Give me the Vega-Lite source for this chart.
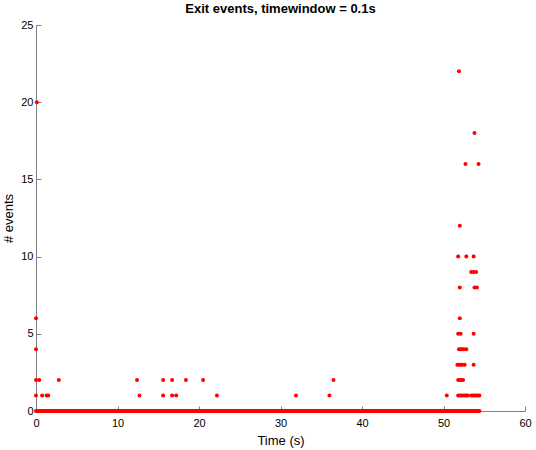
{
  "$schema": "https://vega.github.io/schema/vega-lite/v6.json",
  "autosize": {"type": "none"},
  "width": 489,
  "height": 386,
  "padding": {"left": 36, "top": 25, "right": 11, "bottom": 39},
  "background": "white",
  "config": {
    "view": {"stroke": null},
    "font": "Liberation Sans",
    "axis": {"grid": false, "domainColor": "#808080", "tickColor": "#808080", "labelColor": "black", "titleColor": "black", "labelFontSize": 11, "titleFontSize": 13, "titleFontWeight": "normal", "tickSize": -5}
  },
  "title": {"text": "Exit events, timewindow = 0.1s", "fontSize": 13, "fontWeight": "bold", "font": "Liberation Sans", "offset": 3, "color": "black"},
  "data": {"values": [
    {"t":0.0,"n":0},{"t":0.1,"n":0},{"t":0.2,"n":0},{"t":0.3,"n":0},{"t":0.4,"n":0},{"t":0.5,"n":0},{"t":0.6,"n":0},{"t":0.7,"n":0},{"t":0.8,"n":0},{"t":0.9,"n":0},
    {"t":1.0,"n":0},{"t":1.1,"n":0},{"t":1.2,"n":0},{"t":1.3,"n":0},{"t":1.4,"n":0},{"t":1.5,"n":0},{"t":1.6,"n":0},{"t":1.7,"n":0},{"t":1.8,"n":0},{"t":1.9,"n":0},
    {"t":2.0,"n":0},{"t":2.1,"n":0},{"t":2.2,"n":0},{"t":2.3,"n":0},{"t":2.4,"n":0},{"t":2.5,"n":0},{"t":2.6,"n":0},{"t":2.7,"n":0},{"t":2.8,"n":0},{"t":2.9,"n":0},
    {"t":3.0,"n":0},{"t":3.1,"n":0},{"t":3.2,"n":0},{"t":3.3,"n":0},{"t":3.4,"n":0},{"t":3.5,"n":0},{"t":3.6,"n":0},{"t":3.7,"n":0},{"t":3.8,"n":0},{"t":3.9,"n":0},
    {"t":4.0,"n":0},{"t":4.1,"n":0},{"t":4.2,"n":0},{"t":4.3,"n":0},{"t":4.4,"n":0},{"t":4.5,"n":0},{"t":4.6,"n":0},{"t":4.7,"n":0},{"t":4.8,"n":0},{"t":4.9,"n":0},
    {"t":5.0,"n":0},{"t":5.1,"n":0},{"t":5.2,"n":0},{"t":5.3,"n":0},{"t":5.4,"n":0},{"t":5.5,"n":0},{"t":5.6,"n":0},{"t":5.7,"n":0},{"t":5.8,"n":0},{"t":5.9,"n":0},
    {"t":6.0,"n":0},{"t":6.1,"n":0},{"t":6.2,"n":0},{"t":6.3,"n":0},{"t":6.4,"n":0},{"t":6.5,"n":0},{"t":6.6,"n":0},{"t":6.7,"n":0},{"t":6.8,"n":0},{"t":6.9,"n":0},
    {"t":7.0,"n":0},{"t":7.1,"n":0},{"t":7.2,"n":0},{"t":7.3,"n":0},{"t":7.4,"n":0},{"t":7.5,"n":0},{"t":7.6,"n":0},{"t":7.7,"n":0},{"t":7.8,"n":0},{"t":7.9,"n":0},
    {"t":8.0,"n":0},{"t":8.1,"n":0},{"t":8.2,"n":0},{"t":8.3,"n":0},{"t":8.4,"n":0},{"t":8.5,"n":0},{"t":8.6,"n":0},{"t":8.7,"n":0},{"t":8.8,"n":0},{"t":8.9,"n":0},
    {"t":9.0,"n":0},{"t":9.1,"n":0},{"t":9.2,"n":0},{"t":9.3,"n":0},{"t":9.4,"n":0},{"t":9.5,"n":0},{"t":9.6,"n":0},{"t":9.7,"n":0},{"t":9.8,"n":0},{"t":9.9,"n":0},
    {"t":10.0,"n":0},{"t":10.1,"n":0},{"t":10.2,"n":0},{"t":10.3,"n":0},{"t":10.4,"n":0},{"t":10.5,"n":0},{"t":10.6,"n":0},{"t":10.7,"n":0},{"t":10.8,"n":0},{"t":10.9,"n":0},
    {"t":11.0,"n":0},{"t":11.1,"n":0},{"t":11.2,"n":0},{"t":11.3,"n":0},{"t":11.4,"n":0},{"t":11.5,"n":0},{"t":11.6,"n":0},{"t":11.7,"n":0},{"t":11.8,"n":0},{"t":11.9,"n":0},
    {"t":12.0,"n":0},{"t":12.1,"n":0},{"t":12.2,"n":0},{"t":12.3,"n":0},{"t":12.4,"n":0},{"t":12.5,"n":0},{"t":12.6,"n":0},{"t":12.7,"n":0},{"t":12.8,"n":0},{"t":12.9,"n":0},
    {"t":13.0,"n":0},{"t":13.1,"n":0},{"t":13.2,"n":0},{"t":13.3,"n":0},{"t":13.4,"n":0},{"t":13.5,"n":0},{"t":13.6,"n":0},{"t":13.7,"n":0},{"t":13.8,"n":0},{"t":13.9,"n":0},
    {"t":14.0,"n":0},{"t":14.1,"n":0},{"t":14.2,"n":0},{"t":14.3,"n":0},{"t":14.4,"n":0},{"t":14.5,"n":0},{"t":14.6,"n":0},{"t":14.7,"n":0},{"t":14.8,"n":0},{"t":14.9,"n":0},
    {"t":15.0,"n":0},{"t":15.1,"n":0},{"t":15.2,"n":0},{"t":15.3,"n":0},{"t":15.4,"n":0},{"t":15.5,"n":0},{"t":15.6,"n":0},{"t":15.7,"n":0},{"t":15.8,"n":0},{"t":15.9,"n":0},
    {"t":16.0,"n":0},{"t":16.1,"n":0},{"t":16.2,"n":0},{"t":16.3,"n":0},{"t":16.4,"n":0},{"t":16.5,"n":0},{"t":16.6,"n":0},{"t":16.7,"n":0},{"t":16.8,"n":0},{"t":16.9,"n":0},
    {"t":17.0,"n":0},{"t":17.1,"n":0},{"t":17.2,"n":0},{"t":17.3,"n":0},{"t":17.4,"n":0},{"t":17.5,"n":0},{"t":17.6,"n":0},{"t":17.7,"n":0},{"t":17.8,"n":0},{"t":17.9,"n":0},
    {"t":18.0,"n":0},{"t":18.1,"n":0},{"t":18.2,"n":0},{"t":18.3,"n":0},{"t":18.4,"n":0},{"t":18.5,"n":0},{"t":18.6,"n":0},{"t":18.7,"n":0},{"t":18.8,"n":0},{"t":18.9,"n":0},
    {"t":19.0,"n":0},{"t":19.1,"n":0},{"t":19.2,"n":0},{"t":19.3,"n":0},{"t":19.4,"n":0},{"t":19.5,"n":0},{"t":19.6,"n":0},{"t":19.7,"n":0},{"t":19.8,"n":0},{"t":19.9,"n":0},
    {"t":20.0,"n":0},{"t":20.1,"n":0},{"t":20.2,"n":0},{"t":20.3,"n":0},{"t":20.4,"n":0},{"t":20.5,"n":0},{"t":20.6,"n":0},{"t":20.7,"n":0},{"t":20.8,"n":0},{"t":20.9,"n":0},
    {"t":21.0,"n":0},{"t":21.1,"n":0},{"t":21.2,"n":0},{"t":21.3,"n":0},{"t":21.4,"n":0},{"t":21.5,"n":0},{"t":21.6,"n":0},{"t":21.7,"n":0},{"t":21.8,"n":0},{"t":21.9,"n":0},
    {"t":22.0,"n":0},{"t":22.1,"n":0},{"t":22.2,"n":0},{"t":22.3,"n":0},{"t":22.4,"n":0},{"t":22.5,"n":0},{"t":22.6,"n":0},{"t":22.7,"n":0},{"t":22.8,"n":0},{"t":22.9,"n":0},
    {"t":23.0,"n":0},{"t":23.1,"n":0},{"t":23.2,"n":0},{"t":23.3,"n":0},{"t":23.4,"n":0},{"t":23.5,"n":0},{"t":23.6,"n":0},{"t":23.7,"n":0},{"t":23.8,"n":0},{"t":23.9,"n":0},
    {"t":24.0,"n":0},{"t":24.1,"n":0},{"t":24.2,"n":0},{"t":24.3,"n":0},{"t":24.4,"n":0},{"t":24.5,"n":0},{"t":24.6,"n":0},{"t":24.7,"n":0},{"t":24.8,"n":0},{"t":24.9,"n":0},
    {"t":25.0,"n":0},{"t":25.1,"n":0},{"t":25.2,"n":0},{"t":25.3,"n":0},{"t":25.4,"n":0},{"t":25.5,"n":0},{"t":25.6,"n":0},{"t":25.7,"n":0},{"t":25.8,"n":0},{"t":25.9,"n":0},
    {"t":26.0,"n":0},{"t":26.1,"n":0},{"t":26.2,"n":0},{"t":26.3,"n":0},{"t":26.4,"n":0},{"t":26.5,"n":0},{"t":26.6,"n":0},{"t":26.7,"n":0},{"t":26.8,"n":0},{"t":26.9,"n":0},
    {"t":27.0,"n":0},{"t":27.1,"n":0},{"t":27.2,"n":0},{"t":27.3,"n":0},{"t":27.4,"n":0},{"t":27.5,"n":0},{"t":27.6,"n":0},{"t":27.7,"n":0},{"t":27.8,"n":0},{"t":27.9,"n":0},
    {"t":28.0,"n":0},{"t":28.1,"n":0},{"t":28.2,"n":0},{"t":28.3,"n":0},{"t":28.4,"n":0},{"t":28.5,"n":0},{"t":28.6,"n":0},{"t":28.7,"n":0},{"t":28.8,"n":0},{"t":28.9,"n":0},
    {"t":29.0,"n":0},{"t":29.1,"n":0},{"t":29.2,"n":0},{"t":29.3,"n":0},{"t":29.4,"n":0},{"t":29.5,"n":0},{"t":29.6,"n":0},{"t":29.7,"n":0},{"t":29.8,"n":0},{"t":29.9,"n":0},
    {"t":30.0,"n":0},{"t":30.1,"n":0},{"t":30.2,"n":0},{"t":30.3,"n":0},{"t":30.4,"n":0},{"t":30.5,"n":0},{"t":30.6,"n":0},{"t":30.7,"n":0},{"t":30.8,"n":0},{"t":30.9,"n":0},
    {"t":31.0,"n":0},{"t":31.1,"n":0},{"t":31.2,"n":0},{"t":31.3,"n":0},{"t":31.4,"n":0},{"t":31.5,"n":0},{"t":31.6,"n":0},{"t":31.7,"n":0},{"t":31.8,"n":0},{"t":31.9,"n":0},
    {"t":32.0,"n":0},{"t":32.1,"n":0},{"t":32.2,"n":0},{"t":32.3,"n":0},{"t":32.4,"n":0},{"t":32.5,"n":0},{"t":32.6,"n":0},{"t":32.7,"n":0},{"t":32.8,"n":0},{"t":32.9,"n":0},
    {"t":33.0,"n":0},{"t":33.1,"n":0},{"t":33.2,"n":0},{"t":33.3,"n":0},{"t":33.4,"n":0},{"t":33.5,"n":0},{"t":33.6,"n":0},{"t":33.7,"n":0},{"t":33.8,"n":0},{"t":33.9,"n":0},
    {"t":34.0,"n":0},{"t":34.1,"n":0},{"t":34.2,"n":0},{"t":34.3,"n":0},{"t":34.4,"n":0},{"t":34.5,"n":0},{"t":34.6,"n":0},{"t":34.7,"n":0},{"t":34.8,"n":0},{"t":34.9,"n":0},
    {"t":35.0,"n":0},{"t":35.1,"n":0},{"t":35.2,"n":0},{"t":35.3,"n":0},{"t":35.4,"n":0},{"t":35.5,"n":0},{"t":35.6,"n":0},{"t":35.7,"n":0},{"t":35.8,"n":0},{"t":35.9,"n":0},
    {"t":36.0,"n":0},{"t":36.1,"n":0},{"t":36.2,"n":0},{"t":36.3,"n":0},{"t":36.4,"n":0},{"t":36.5,"n":0},{"t":36.6,"n":0},{"t":36.7,"n":0},{"t":36.8,"n":0},{"t":36.9,"n":0},
    {"t":37.0,"n":0},{"t":37.1,"n":0},{"t":37.2,"n":0},{"t":37.3,"n":0},{"t":37.4,"n":0},{"t":37.5,"n":0},{"t":37.6,"n":0},{"t":37.7,"n":0},{"t":37.8,"n":0},{"t":37.9,"n":0},
    {"t":38.0,"n":0},{"t":38.1,"n":0},{"t":38.2,"n":0},{"t":38.3,"n":0},{"t":38.4,"n":0},{"t":38.5,"n":0},{"t":38.6,"n":0},{"t":38.7,"n":0},{"t":38.8,"n":0},{"t":38.9,"n":0},
    {"t":39.0,"n":0},{"t":39.1,"n":0},{"t":39.2,"n":0},{"t":39.3,"n":0},{"t":39.4,"n":0},{"t":39.5,"n":0},{"t":39.6,"n":0},{"t":39.7,"n":0},{"t":39.8,"n":0},{"t":39.9,"n":0},
    {"t":40.0,"n":0},{"t":40.1,"n":0},{"t":40.2,"n":0},{"t":40.3,"n":0},{"t":40.4,"n":0},{"t":40.5,"n":0},{"t":40.6,"n":0},{"t":40.7,"n":0},{"t":40.8,"n":0},{"t":40.9,"n":0},
    {"t":41.0,"n":0},{"t":41.1,"n":0},{"t":41.2,"n":0},{"t":41.3,"n":0},{"t":41.4,"n":0},{"t":41.5,"n":0},{"t":41.6,"n":0},{"t":41.7,"n":0},{"t":41.8,"n":0},{"t":41.9,"n":0},
    {"t":42.0,"n":0},{"t":42.1,"n":0},{"t":42.2,"n":0},{"t":42.3,"n":0},{"t":42.4,"n":0},{"t":42.5,"n":0},{"t":42.6,"n":0},{"t":42.7,"n":0},{"t":42.8,"n":0},{"t":42.9,"n":0},
    {"t":43.0,"n":0},{"t":43.1,"n":0},{"t":43.2,"n":0},{"t":43.3,"n":0},{"t":43.4,"n":0},{"t":43.5,"n":0},{"t":43.6,"n":0},{"t":43.7,"n":0},{"t":43.8,"n":0},{"t":43.9,"n":0},
    {"t":44.0,"n":0},{"t":44.1,"n":0},{"t":44.2,"n":0},{"t":44.3,"n":0},{"t":44.4,"n":0},{"t":44.5,"n":0},{"t":44.6,"n":0},{"t":44.7,"n":0},{"t":44.8,"n":0},{"t":44.9,"n":0},
    {"t":45.0,"n":0},{"t":45.1,"n":0},{"t":45.2,"n":0},{"t":45.3,"n":0},{"t":45.4,"n":0},{"t":45.5,"n":0},{"t":45.6,"n":0},{"t":45.7,"n":0},{"t":45.8,"n":0},{"t":45.9,"n":0},
    {"t":46.0,"n":0},{"t":46.1,"n":0},{"t":46.2,"n":0},{"t":46.3,"n":0},{"t":46.4,"n":0},{"t":46.5,"n":0},{"t":46.6,"n":0},{"t":46.7,"n":0},{"t":46.8,"n":0},{"t":46.9,"n":0},
    {"t":47.0,"n":0},{"t":47.1,"n":0},{"t":47.2,"n":0},{"t":47.3,"n":0},{"t":47.4,"n":0},{"t":47.5,"n":0},{"t":47.6,"n":0},{"t":47.7,"n":0},{"t":47.8,"n":0},{"t":47.9,"n":0},
    {"t":48.0,"n":0},{"t":48.1,"n":0},{"t":48.2,"n":0},{"t":48.3,"n":0},{"t":48.4,"n":0},{"t":48.5,"n":0},{"t":48.6,"n":0},{"t":48.7,"n":0},{"t":48.8,"n":0},{"t":48.9,"n":0},
    {"t":49.0,"n":0},{"t":49.1,"n":0},{"t":49.2,"n":0},{"t":49.3,"n":0},{"t":49.4,"n":0},{"t":49.5,"n":0},{"t":49.6,"n":0},{"t":49.7,"n":0},{"t":49.8,"n":0},{"t":49.9,"n":0},
    {"t":50.0,"n":0},{"t":50.1,"n":0},{"t":50.2,"n":0},{"t":50.3,"n":0},{"t":50.4,"n":0},{"t":50.5,"n":0},{"t":50.6,"n":0},{"t":50.7,"n":0},{"t":50.8,"n":0},{"t":50.9,"n":0},
    {"t":51.0,"n":0},{"t":51.1,"n":0},{"t":51.2,"n":0},{"t":51.3,"n":0},{"t":51.4,"n":0},{"t":51.5,"n":0},{"t":51.6,"n":0},{"t":51.7,"n":0},{"t":51.8,"n":0},{"t":51.9,"n":0},
    {"t":52.0,"n":0},{"t":52.1,"n":0},{"t":52.2,"n":0},{"t":52.3,"n":0},{"t":52.4,"n":0},{"t":52.5,"n":0},{"t":52.6,"n":0},{"t":52.7,"n":0},{"t":52.8,"n":0},{"t":52.9,"n":0},
    {"t":53.0,"n":0},{"t":53.1,"n":0},{"t":53.2,"n":0},{"t":53.3,"n":0},{"t":53.4,"n":0},{"t":53.5,"n":0},{"t":53.6,"n":0},{"t":53.7,"n":0},{"t":53.8,"n":0},{"t":53.9,"n":0},
    {"t":54.0,"n":0},{"t":54.1,"n":0},{"t":54.2,"n":0},{"t":54.3,"n":0},{"t":54.4,"n":0},
    {"t":0.1,"n":20},{"t":0.0,"n":6},{"t":0.0,"n":4},{"t":0.0,"n":2},{"t":0.4,"n":2},{"t":0.0,"n":1},{"t":0.75,"n":1},{"t":1.3,"n":1},{"t":1.5,"n":1},{"t":2.8,"n":2},
    {"t":12.4,"n":2},{"t":12.7,"n":1},{"t":15.6,"n":2},{"t":15.6,"n":1},{"t":16.7,"n":2},{"t":16.7,"n":1},{"t":17.2,"n":1},{"t":18.4,"n":2},{"t":20.5,"n":2},{"t":22.2,"n":1},
    {"t":31.9,"n":1},{"t":36.0,"n":1},{"t":36.5,"n":2},
    {"t":50.4,"n":1},
    {"t":51.8,"n":1},{"t":52.0,"n":1},{"t":52.2,"n":1},{"t":52.4,"n":1},{"t":52.6,"n":1},{"t":52.8,"n":1},{"t":53.0,"n":1},{"t":53.4,"n":1},{"t":53.6,"n":1},{"t":53.8,"n":1},{"t":54.0,"n":1},{"t":54.2,"n":1},{"t":54.4,"n":1},
    {"t":51.8,"n":2},{"t":52.0,"n":2},{"t":52.2,"n":2},{"t":52.4,"n":2},
    {"t":51.7,"n":3},{"t":51.9,"n":3},{"t":52.1,"n":3},{"t":52.3,"n":3},{"t":52.6,"n":3},{"t":53.7,"n":3},
    {"t":51.9,"n":4},{"t":52.1,"n":4},{"t":52.3,"n":4},{"t":52.5,"n":4},{"t":52.8,"n":4},
    {"t":51.8,"n":5},{"t":52.1,"n":5},{"t":53.7,"n":5},
    {"t":52.0,"n":6},
    {"t":52.0,"n":8},{"t":53.8,"n":8},{"t":54.1,"n":8},
    {"t":53.4,"n":9},{"t":53.7,"n":9},{"t":54.0,"n":9},
    {"t":51.8,"n":10},{"t":52.8,"n":10},{"t":53.7,"n":10},
    {"t":52.0,"n":12},
    {"t":52.7,"n":16},{"t":54.3,"n":16},
    {"t":53.8,"n":18},
    {"t":51.9,"n":22}
  ]},
  "mark": {"type": "point", "shape": "circle", "filled": true, "opacity": 1, "color": "#ff0000", "size": 16},
  "encoding": {
    "x": {"field": "t", "type": "quantitative", "title": "Time (s)", "scale": {"domain": [0, 60], "nice": false, "zero": false},
      "axis": {"values": [0, 10, 20, 30, 40, 50, 60], "labelPadding": 11, "titlePadding": 6, "labelFlush": false}},
    "y": {"field": "n", "type": "quantitative", "title": "# events", "scale": {"domain": [0, 25], "nice": false},
      "axis": {"values": [0, 5, 10, 15, 20, 25], "labelPadding": 8, "titlePadding": 5, "labelFlush": false}}
  }
}
